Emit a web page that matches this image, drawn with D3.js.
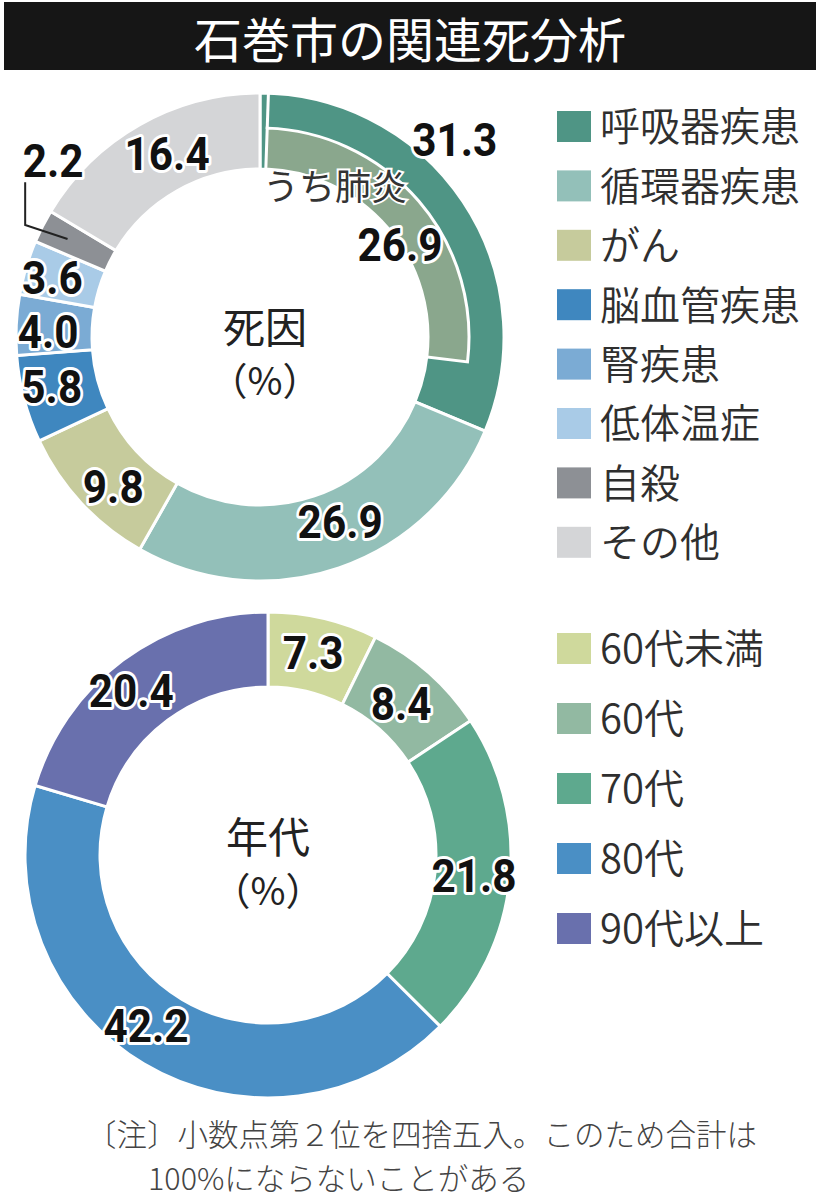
<!DOCTYPE html>
<html><head><meta charset="utf-8">
<script src="https://cdn.jsdelivr.net/npm/d3@7"></script>
<style>
html,body{margin:0;padding:0;background:#fff;}
svg{display:block;}
</style></head>
<body>
<script>
// ---- data ----
const title = "石巻市の関連死分析";
const causeCategories = ["呼吸器疾患","循環器疾患","がん","脳血管疾患","腎疾患","低体温症","自殺","その他"];
const causeValues = [31.3, 26.9, 9.8, 5.8, 4.0, 3.6, 2.2, 16.4];
const causeColors = ["#4f9585","#93c0b9","#c6cb9c","#3f87bf","#7babd4","#a9cbe7","#8d9095","#d4d5d7"];
const pneumoniaLabel = "うち肺炎";
const pneumoniaValue = 26.9;
const pneumoniaColor = "#8aa78d";
const causeCenter = ["死因","（%）"];

const ageCategories = ["60代未満","60代","70代","80代","90代以上"];
const ageValues = [7.3, 8.4, 21.8, 42.2, 20.4];
const ageColors = ["#cfd99c","#92b9a2","#5ea98e","#4a8fc5","#6970ad"];
const ageCenter = ["年代","（%）"];

const noteLines = ["〔注〕小数点第２位を四捨五入。このため合計は","100%にならないことがある"];

// label placement (angle in degrees clockwise from 12 o'clock, radius px)
const causeLabelPos = [[44.5,278],[156.5,201],[224.6,209],[256.7,214],[271.6,212],[286.1,216],[310.5,272],[333.2,206]];
const pneumoniaLabelPos = [56.4,168];
const pneumoniaTextPos = [26.5,168];
const ageLabelPos = [[12.5,208],[41.2,202],[95.5,207],[215.7,209],[320.3,214]];

const W = 820, H = 1200;
const svg = d3.select("body").append("svg").attr("width", W).attr("height", H);

// title
svg.append("rect").attr("x",4).attr("y",2).attr("width",812).attr("height",68).attr("fill","#161616");
svg.append("text").attr("x",410).attr("y",58).attr("text-anchor","middle")
  .attr("font-family","'Noto Sans CJK JP'").attr("font-size",48).attr("font-weight",400)
  .attr("fill","#fff").text(title);

const numFont = "Roboto, 'Liberation Sans', sans-serif";
const cjk = "'Noto Sans CJK JP', sans-serif";

function polar(cx, cy, deg, r){
  const a = deg*Math.PI/180;
  return [cx + r*Math.sin(a), cy - r*Math.cos(a)];
}

function valueLabel(g, x, y, txt){
  g.append("text")
    .attr("transform", `translate(${x},${y}) scale(0.9,1)`)
    .attr("text-anchor","middle").attr("dy","0.36em")
    .attr("font-family", numFont).attr("font-weight",700).attr("font-size",47)
    .attr("fill","#111").attr("stroke","#fff").attr("stroke-width",6)
    .attr("stroke-linejoin","round").attr("paint-order","stroke")
    .text(txt);
}

function donut(cfg){
  const {cx, cy, rOuter, rInner, values, colors} = cfg;
  const g = svg.append("g");
  const pie = d3.pie().sort(null).value(d=>d)(values);
  const arc = d3.arc().innerRadius(rInner).outerRadius(rOuter);
  g.append("g").attr("transform",`translate(${cx},${cy})`)
    .selectAll("path").data(pie).join("path")
    .attr("d", arc).attr("fill",(d,i)=>colors[i])
    .attr("stroke","#fff").attr("stroke-width",3).attr("stroke-linejoin","miter");
  return {g, pie};
}

function centerText(cx, cy, lines){
  svg.append("text").attr("x",cx).attr("y",cy).attr("text-anchor","middle")
    .attr("font-family",cjk).attr("font-size",42).attr("fill","#222").text(lines[0]);
  svg.append("text").attr("x",cx).attr("y",cy+52).attr("text-anchor","middle")
    .attr("font-family",cjk).attr("font-size",38).attr("fill","#222").text(lines[1]);
}

function legend(x, y0, step, cats, colors){
  const g = svg.append("g");
  cats.forEach((c,i)=>{
    const y = y0 + i*step;
    g.append("rect").attr("x",x).attr("y",y-16).attr("width",34).attr("height",31).attr("fill",colors[i]);
    g.append("text").attr("x",x+43).attr("y",y).attr("dy","0.36em")
      .attr("font-family",cjk).attr("font-size",40).attr("font-weight",350).attr("fill","#2f2f2f").text(c);
  });
}

// ---- donut 1: causes ----
const c1 = {cx:260, cy:337, rOuter:244, rInner:168};
const d1 = donut({...c1, values:causeValues, colors:causeColors});
// pneumonia sub-arc inside respiratory segment
const total1 = d3.sum(causeValues);
const pnStart = 2*Math.PI*0.0055;
const pnEnd = 2*Math.PI*pneumoniaValue/total1;
const pnArc = d3.arc().innerRadius(c1.rInner).outerRadius(c1.rOuter-35);
const g1 = svg.append("g").attr("transform",`translate(${c1.cx},${c1.cy})`);
g1.append("path").attr("d", pnArc({startAngle:pnStart, endAngle:pnEnd}))
  .attr("fill",pneumoniaColor).attr("stroke","#fff").attr("stroke-width",3);
const sx = Math.sin(pnStart), sy = -Math.cos(pnStart);
g1.append("line").attr("x1",sx*(c1.rOuter-36)).attr("y1",sy*(c1.rOuter-36))
  .attr("x2",sx*(c1.rOuter+1)).attr("y2",sy*(c1.rOuter+1))
  .attr("stroke","#fff").attr("stroke-width",3);

centerText(c1.cx+5, c1.cy+6, causeCenter);

// leader line for small slice (自殺)
const ll = svg.append("g");
{
  const idx = 6;
  const mid = (d1.pie[idx].startAngle + d1.pie[idx].endAngle)/2;
  const ex = c1.cx + Math.sin(mid)*(c1.rOuter-28), ey = c1.cy - Math.cos(mid)*(c1.rOuter-28);
  const [lx, ly] = polar(c1.cx, c1.cy, causeLabelPos[idx][0], causeLabelPos[idx][1]);
  const px = lx - 28;
  ll.append("polyline").attr("points",`${px},${ly+22} ${px},${ey-14} ${ex},${ey}`)
    .attr("fill","none").attr("stroke","#222").attr("stroke-width",2);
}

const lab1 = svg.append("g");
causeValues.forEach((v,i)=>{
  const [x,y] = polar(c1.cx, c1.cy, causeLabelPos[i][0], causeLabelPos[i][1]);
  valueLabel(lab1, x, y, v.toFixed(1));
});
{
  const [x,y] = polar(c1.cx, c1.cy, pneumoniaLabelPos[0], pneumoniaLabelPos[1]);
  valueLabel(lab1, x, y, pneumoniaValue.toFixed(1));
  const [tx,ty] = polar(c1.cx, c1.cy, pneumoniaTextPos[0], pneumoniaTextPos[1]);
  lab1.append("text").attr("x",tx).attr("y",ty).attr("dy","0.36em").attr("text-anchor","middle")
    .attr("font-family",cjk).attr("font-size",36).attr("fill","#333")
    .attr("stroke","#fff").attr("stroke-width",4).attr("paint-order","stroke")
    .text(pneumoniaLabel);
}

legend(557, 127, 59.4, causeCategories, causeColors);

// ---- donut 2: age ----
const c2 = {cx:268, cy:855, rOuter:243, rInner:168};
donut({...c2, values:ageValues, colors:ageColors});
centerText(c2.cx, c2.cy-2, ageCenter);
const lab2 = svg.append("g");
ageValues.forEach((v,i)=>{
  const [x,y] = polar(c2.cx, c2.cy, ageLabelPos[i][0], ageLabelPos[i][1]);
  valueLabel(lab2, x, y, v.toFixed(1));
});
legend(557, 649, 70, ageCategories, ageColors);

// ---- note ----
svg.append("text").attr("x",86).attr("y",1146).attr("font-family",cjk).attr("font-size",30.5)
  .attr("font-weight",300).attr("fill","#444").text(noteLines[0]);
svg.append("text").attr("x",148).attr("y",1190).attr("font-family",cjk).attr("font-size",30.5)
  .attr("font-weight",300).attr("fill","#444").text(noteLines[1]);
</script>
</body></html>
